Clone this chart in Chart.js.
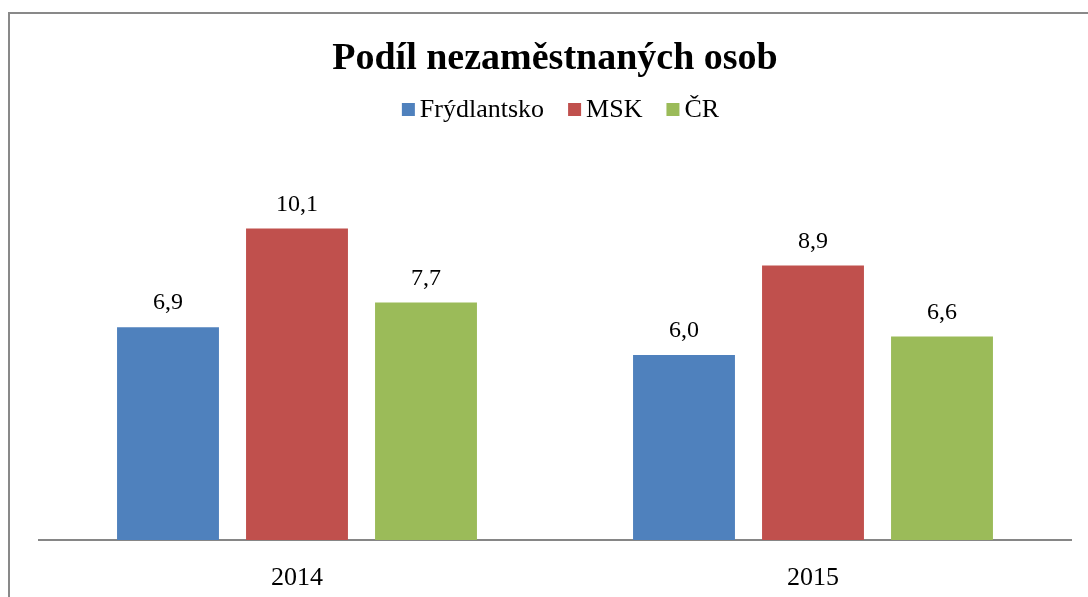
<!DOCTYPE html>
<html>
<head>
<meta charset="utf-8">
<script src="https://cdn.jsdelivr.net/npm/chart.js@4/dist/chart.umd.min.js"></script>
<style>
  html, body { margin: 0; padding: 0; background: #fff; }
  #wrap { width: 1088px; height: 597px; position: relative; }
</style>
</head>
<body>
<div id="wrap"><canvas id="c" width="1088" height="597"></canvas></div>
<script>
const categories = ['2014', '2015'];
const seriesNames = ['Frýdlantsko', 'MSK', 'ČR'];
const frydlantsko = [6.9, 6.0];
const msk = [10.1, 8.9];
const cr = [7.7, 6.6];
const seriesColors = ['#4F81BD', '#C0504D', '#9BBB59'];
const titleText = 'Podíl nezaměstnaných osob';

const SERIF = '"Liberation Serif", "Times New Roman", serif';

const frame = {
  id: 'frame',
  beforeDraw(chart) {
    const ctx = chart.ctx;
    ctx.save();
    ctx.fillStyle = '#fff';
    ctx.fillRect(0, 0, chart.width, chart.height);
    ctx.strokeStyle = '#898989';
    ctx.lineWidth = 2;
    ctx.strokeRect(9, 13, 1200, 700);
    ctx.restore();
  }
};

const valueLabels = {
  id: 'valueLabels',
  afterDatasetsDraw(chart) {
    const ctx = chart.ctx;
    ctx.save();
    ctx.font = '24px ' + SERIF;
    ctx.fillStyle = '#000';
    ctx.textAlign = 'center';
    ctx.textBaseline = 'alphabetic';
    chart.data.datasets.forEach((ds, i) => {
      chart.getDatasetMeta(i).data.forEach((bar, j) => {
        const txt = ds.data[j].toFixed(1).replace('.', ',');
        ctx.fillText(txt, bar.x, bar.y - 18);
      });
    });
    ctx.restore();
  }
};

const customLegend = {
  id: 'customLegend',
  afterDraw(chart) {
    const ctx = chart.ctx;
    ctx.save();
    ctx.font = '26px ' + SERIF;
    const box = 13, gap = 5, itemGap = 24;
    const widths = seriesNames.map(n => ctx.measureText(n).width);
    let total = 0;
    widths.forEach((w, i) => { total += box + gap + w + (i < widths.length - 1 ? itemGap : 0); });
    let x = 560.5 - total / 2;
    const boxTop = 103, baseline = 117;
    ctx.textBaseline = 'alphabetic';
    ctx.textAlign = 'left';
    seriesNames.forEach((n, i) => {
      ctx.fillStyle = seriesColors[i];
      ctx.fillRect(x, boxTop, box, box);
      ctx.fillStyle = '#000';
      ctx.fillText(n, x + box + gap, baseline);
      x += box + gap + widths[i] + itemGap;
    });
    ctx.restore();
  }
};

new Chart(document.getElementById('c'), {
  type: 'bar',
  data: {
    labels: categories,
    datasets: [
      { label: seriesNames[0], data: frydlantsko, backgroundColor: seriesColors[0] },
      { label: seriesNames[1], data: msk, backgroundColor: seriesColors[1] },
      { label: seriesNames[2], data: cr, backgroundColor: seriesColors[2] }
    ]
  },
  options: {
    responsive: false,
    devicePixelRatio: 1,
    animation: false,
    events: [],
    categoryPercentage: 0.75,
    barPercentage: 0.79,
    layout: { padding: { left: 39, right: 17, top: 0, bottom: 0 } },
    plugins: {
      legend: { display: false },
      tooltip: { enabled: false },
      title: {
        display: true,
        text: titleText,
        color: '#000',
        font: { family: SERIF, size: 38, weight: 'bold' },
        padding: { top: 36, bottom: 88.4 }
      }
    },
    scales: {
      x: {
        grid: { display: false },
        border: { display: true, color: '#868686', width: 2 },
        ticks: { color: '#000', font: { family: SERIF, size: 26 }, padding: 15 },
        afterFit(s) { s.height = 57; }
      },
      y: {
        display: false,
        min: 0,
        max: 12
      }
    }
  },
  plugins: [frame, valueLabels, customLegend]
});
</script>
</body>
</html>
